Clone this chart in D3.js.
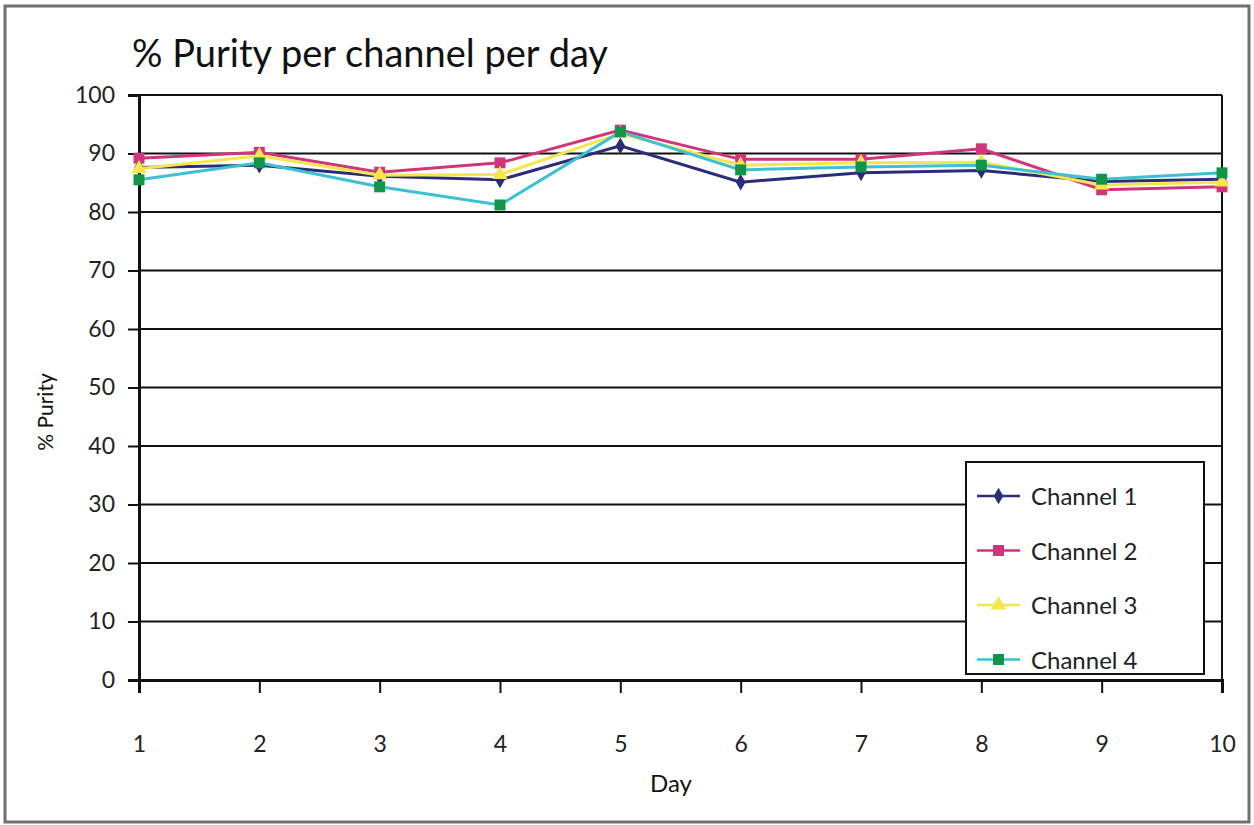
<!DOCTYPE html>
<html>
<head>
<meta charset="utf-8">
<script src="https://cdn.jsdelivr.net/npm/d3@7"></script>
<style>
  body { margin: 0; background: #fff; }
  svg { display: block; font-family: "Lato", "Open Sans", sans-serif; }
</style>
</head>
<body>
<div class="main"></div>
<script>
const days = [1, 2, 3, 4, 5, 6, 7, 8, 9, 10];
const yTicks = [0, 10, 20, 30, 40, 50, 60, 70, 80, 90, 100];
const seriesNames = ["Channel 1", "Channel 2", "Channel 3", "Channel 4"];
const channel1 = [87.6, 88.0, 86.1, 85.5, 91.3, 85.1, 86.7, 87.1, 85.2, 85.6];
const channel2 = [89.2, 90.2, 86.8, 88.4, 94.0, 89.0, 89.0, 90.8, 83.8, 84.3];
const channel3 = [87.4, 89.6, 86.3, 86.4, 93.4, 88.0, 88.4, 88.5, 84.6, 85.1];
const channel4 = [85.5, 88.4, 84.3, 81.2, 93.7, 87.2, 87.7, 88.0, 85.6, 86.7];

const w = 1254;
const h = 825;

const svg = d3.select(".main")
  .append("svg")
  .attr("width", w)
  .attr("height", h);

// outer frame
svg.append("rect")
  .attr("x", 5).attr("y", 6)
  .attr("width", 1244).attr("height", 816)
  .attr("fill", "#fff")
  .attr("stroke", "#707070")
  .attr("stroke-width", 3);

const xScale = d3.scalePoint()
  .domain(days)
  .range([139, 1222]);

const yScale = d3.scaleLinear()
  .domain([0, 100])
  .range([680, 95]);

// gridlines
svg.append("g")
  .selectAll("line")
  .data(yTicks.filter(d => d > 0))
  .enter()
  .append("line")
  .attr("x1", 139)
  .attr("x2", 1222)
  .attr("y1", d => yScale(d))
  .attr("y2", d => yScale(d))
  .attr("stroke", "#111")
  .attr("stroke-width", 2);

// right border
svg.append("line")
  .attr("x1", 1222).attr("x2", 1222)
  .attr("y1", yScale(100)).attr("y2", yScale(0))
  .attr("stroke", "#111")
  .attr("stroke-width", 2);

const yAxis = d3.axisLeft(yScale)
  .tickValues(yTicks)
  .tickSize(11)
  .tickPadding(13);

const gy = svg.append("g")
  .attr("transform", "translate(139,0)")
  .call(yAxis);
gy.select(".domain").attr("stroke", "#111").attr("stroke-width", 3);
gy.selectAll(".tick line").attr("stroke", "#111").attr("stroke-width", 2);
gy.selectAll(".tick text")
  .attr("font-size", "23px")
  .attr("font-family", "Lato, sans-serif")
  .attr("fill", "#222");

const xAxis = d3.axisBottom(xScale)
  .tickSize(13)
  .tickPadding(43);

const gx = svg.append("g")
  .attr("transform", "translate(0,680)")
  .call(xAxis);
gx.select(".domain").attr("stroke", "#111").attr("stroke-width", 3);
gx.selectAll(".tick line").attr("stroke", "#111").attr("stroke-width", 2);
gx.selectAll(".tick text")
  .attr("font-size", "23px")
  .attr("font-family", "Lato, sans-serif")
  .attr("fill", "#222");

const series = [
  { name: seriesNames[0], values: channel1, line: "#2b2c7a", fill: "#2b2c7a", shape: d3.symbolDiamond, size: 80 },
  { name: seriesNames[1], values: channel2, line: "#d0357c", fill: "#d0357c", shape: d3.symbolSquare, size: 120 },
  { name: seriesNames[2], values: channel3, line: "#f4e64c", fill: "#f4e64c", shape: d3.symbolTriangle, size: 100 },
  { name: seriesNames[3], values: channel4, line: "#3cc0d2", fill: "#109448", shape: d3.symbolSquare, size: 120 }
];

const line = d3.line()
  .x((d, i) => xScale(days[i]))
  .y(d => yScale(d));

series.forEach(s => {
  svg.append("path")
    .datum(s.values)
    .attr("d", line)
    .attr("fill", "none")
    .attr("stroke", s.line)
    .attr("stroke-width", 3);
  svg.append("g")
    .selectAll("path")
    .data(s.values)
    .enter()
    .append("path")
    .attr("d", d3.symbol().type(s.shape).size(s.size))
    .attr("transform", (d, i) => "translate(" + xScale(days[i]) + "," + yScale(d) + ")")
    .attr("fill", s.fill);
});

// legend
const legend = svg.append("g");
legend.append("rect")
  .attr("x", 966).attr("y", 462)
  .attr("width", 238).attr("height", 212)
  .attr("fill", "#fff")
  .attr("stroke", "#111")
  .attr("stroke-width", 2);

series.forEach((s, i) => {
  const ly = 496 + i * 54.5;
  legend.append("line")
    .attr("x1", 977).attr("x2", 1020)
    .attr("y1", ly).attr("y2", ly)
    .attr("stroke", s.line)
    .attr("stroke-width", 2.5);
  legend.append("path")
    .attr("d", d3.symbol().type(s.shape).size(s.size))
    .attr("transform", "translate(998.5," + ly + ")")
    .attr("fill", s.fill);
  legend.append("text")
    .attr("x", 1031)
    .attr("y", ly + 9)
    .attr("font-size", "24px")
    .attr("fill", "#222")
    .text(s.name);
});

svg.append("text")
  .attr("x", 132)
  .attr("y", 67)
  .attr("font-size", "38px")
  .attr("fill", "#111")
  .text("% Purity per channel per day");

svg.append("text")
  .attr("x", 671)
  .attr("y", 792)
  .attr("font-size", "24px")
  .attr("fill", "#111")
  .style("text-anchor", "middle")
  .text("Day");

svg.append("text")
  .attr("transform", "rotate(-90)")
  .attr("x", -412)
  .attr("y", 53)
  .attr("font-size", "21px")
  .attr("fill", "#111")
  .style("text-anchor", "middle")
  .text("% Purity");
</script>
</body>
</html>
